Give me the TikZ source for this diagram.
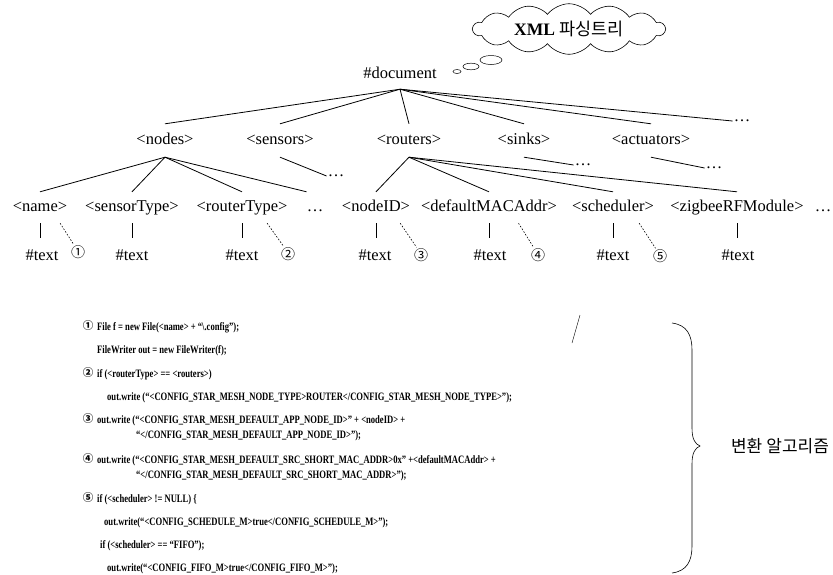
\documentclass[tikz,border=0pt]{standalone}
\usepackage{fontspec}
\setmainfont{Liberation Serif}
\newfontfamily\kr{Noto Sans CJK KR}
\newfontfamily\codefont[FakeStretch=0.76]{Liberation Serif}
\usetikzlibrary{shapes.symbols}
\begin{document}
\begin{tikzpicture}[x=1pt,y=-1pt,
  tag/.style={font=\fontsize{16.5}{18}\selectfont, inner xsep=0pt, inner ysep=0pt, text height=11.5pt, text depth=3.5pt},
  lvone/.style={tag, minimum height=33pt},
  lvtwo/.style={tag, minimum height=31pt},
  ell/.style={font=\fontsize{16.5}{18}\selectfont, inner sep=1pt},
  cnum/.style={font=\kr\fontsize{14}{16}\selectfont, inner sep=1pt},
  edge/.style={line width=0.8pt},
  dsh/.style={line width=0.6pt, dash pattern=on 1.6pt off 1.6pt},
  code/.style={font=\codefont\fontsize{11.3}{12}\selectfont\bfseries, anchor=base west, inner sep=0pt},
  ccnum/.style={font=\kr\fontsize{10.5}{12}\selectfont\bfseries, inner sep=0pt},
]
\useasboundingbox (0,0) rectangle (833,574);

% cloud
\node[cloud, draw, line width=0.6pt, cloud puffs=14, cloud puff arc=105, aspect=4.5,
      minimum width=192pt, minimum height=44pt, inner sep=0pt] (cloud) at (569,29)
  {\fontsize{17.5}{19}\selectfont\textbf{XML} {\kr 파싱트리}};
\draw[line width=0.5pt] (457,71.5) ellipse (4 and 2);
\draw[line width=0.5pt] (471,66.5) ellipse (8 and 3.3);
\draw[line width=0.5pt] (491,60) ellipse (11 and 4.5);

% level 0
\node[tag, minimum height=30pt] (doc) at (400,74) {\#document};

% level 1
\node[lvone] (nodes) at (165,140.5) {<nodes>};
\node[lvone] (sensors) at (280,140.5) {<sensors>};
\node[lvone] (routers) at (409,140.5) {<routers>};
\node[lvone] (sinks) at (524,140.5) {<sinks>};
\node[lvone] (actuators) at (651,140.5) {<actuators>};
\node[ell] (d1) at (742,121) {…};

\foreach \n in {nodes,sensors,routers,sinks,actuators}
  \draw[edge] (doc.south) -- (\n.north);
\draw[edge] (doc.south) -- (d1.west);

% dots under level 1
\node[ell] (ds) at (336,176) {…};
\node[ell] (dk) at (583,165) {…};
\node[ell] (da) at (714,168) {…};
\draw[edge] (sensors.south) -- (ds.west);
\draw[edge] (sinks.south) -- (dk.west);
\draw[edge] (actuators.south) -- (da.west);

% level 2
\node[lvtwo] (name) at (40,207.5) {<name>};
\node[lvtwo] (stype) at (132,207.5) {<sensorType>};
\node[lvtwo] (rtype) at (242,207.5) {<routerType>};
\node[lvtwo] (d2) at (315,207.5) {…};
\node[lvtwo] (nid) at (376,207.5) {<nodeID>};
\node[lvtwo] (mac) at (489,207.5) {<defaultMACAddr>};
\node[lvtwo] (sched) at (613,207.5) {<scheduler>};
\node[lvtwo] (zig) at (737,207.5) {<zigbeeRFModule>};
\node[lvtwo] (d3) at (823,207.5) {…};

\foreach \n in {name,stype,rtype}
  \draw[edge] (nodes.south) -- (\n.north);
\draw[edge] (nodes.south) -- (d2.north west);
\foreach \n in {nid,mac,sched,zig}
  \draw[edge] (routers.south) -- (\n.north);

% level 3
\node[tag] (t1) at (42,256.5) {\#text};
\node[tag] (t2) at (132,256.5) {\#text};
\node[tag] (t3) at (242,256.5) {\#text};
\node[tag] (t4) at (375,256.5) {\#text};
\node[tag] (t5) at (490,256.5) {\#text};
\node[tag] (t6) at (613,256.5) {\#text};
\node[tag] (t7) at (738,256.5) {\#text};
\draw[edge, shorten >=11pt] (name.south) -- (name.south |- t1.north);
\draw[edge, shorten >=11pt] (stype.south) -- (stype.south |- t2.north);
\draw[edge, shorten >=11pt] (rtype.south) -- (rtype.south |- t3.north);
\draw[edge, shorten >=11pt] (nid.south) -- (nid.south |- t4.north);
\draw[edge, shorten >=11pt] (mac.south) -- (mac.south |- t5.north);
\draw[edge, shorten >=11pt] (sched.south) -- (sched.south |- t6.north);
\draw[edge, shorten >=11pt] (zig.south) -- (zig.south |- t7.north);

% circled numbers
\node[cnum] (c1) at (78,252) {①};
\node[cnum] (c2) at (288,254) {②};
\node[cnum] (c3) at (421,255) {③};
\node[cnum] (c4) at (538,255) {④};
\node[cnum] (c5) at (660,256) {⑤};
\draw[dsh] (name.-38) -- (c1.120);
\draw[dsh] (rtype.-32) -- (c2.120);
\draw[dsh] (nid.-33) -- (c3.120);
\draw[dsh] (mac.-28) -- (c4.120);
\draw[dsh] (sched.-31) -- (c5.120);

% code block
\node[ccnum] (k1) at (88,326) {①};
\node[code] (l1) at (97,330) {File f = new File(<name> + “\textbackslash.config”);};
\node[code] (l2) at (97,353) {FileWriter out = new FileWriter(f);};
\node[ccnum] (k2) at (88,373) {②};
\node[code] (l3) at (97,377) {if (<routerType> == <routers>)};
\node[code] (l4) at (107,400) {out.write (“<CONFIG\_STAR\_MESH\_NODE\_TYPE>ROUTER</CONFIG\_STAR\_MESH\_NODE\_TYPE>”);};
\node[ccnum] (k3) at (88,419) {③};
\node[code] (l5) at (97,423) {out.write (“<CONFIG\_STAR\_MESH\_DEFAULT\_APP\_NODE\_ID>” + <nodeID> +};
\node[code] (l6) at (136,438) {“</CONFIG\_STAR\_MESH\_DEFAULT\_APP\_NODE\_ID>”);};
\node[ccnum] (k4) at (88,459) {④};
\node[code] (l7) at (97,463) {out.write (“<CONFIG\_STAR\_MESH\_DEFAULT\_SRC\_SHORT\_MAC\_ADDR>0x” +<defaultMACAddr> +};
\node[code] (l8) at (136,478) {“</CONFIG\_STAR\_MESH\_DEFAULT\_SRC\_SHORT\_MAC\_ADDR>”);};
\node[ccnum] (k5) at (88,498) {⑤};
\node[code] (l9) at (97,502) {if (<scheduler> != NULL) \{};
\node[code] (l10) at (104,525) {out.write(“<CONFIG\_SCHEDULE\_M>true</CONFIG\_SCHEDULE\_M>”);};
\node[code] (l11) at (100,548) {if (<scheduler> == “FIFO”);};
\node[code] (l12) at (107,571) {out.write(“<CONFIG\_FIFO\_M>true</CONFIG\_FIFO\_M>”);};

% stray mark
\draw[line width=0.4pt] (580,315) -- (572,343);

% brace
\draw[line width=0.6pt] (672,323) .. controls (687,325) and (692,335) .. (692,350)
  -- (692,428) .. controls (692,439) and (695,444) .. (700,446)
  .. controls (695,448) and (692,453) .. (692,464)
  -- (692,546) .. controls (692,561) and (687,571) .. (672,573);
\node[font=\kr\fontsize{17}{19}\selectfont, inner sep=0pt] (alg) at (780,446) {변환\hspace{4pt}알고리즘};
\end{tikzpicture}
\end{document}
